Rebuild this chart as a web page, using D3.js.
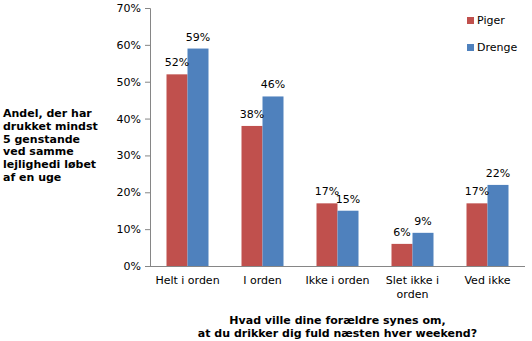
<!DOCTYPE html>
<html>
<head>
<meta charset="utf-8">
<script src="https://cdn.jsdelivr.net/npm/d3@7"></script>
<style>
  html, body { margin: 0; padding: 0; background: #fff; }
  svg { display: block; font-family: "DejaVu Sans", Verdana, sans-serif; }
</style>
</head>
<body>
<svg id="chart" width="532" height="341"></svg>
<script>
// Answer categories and the share for each group
const categories = ["Helt i orden", "I orden", "Ikke i orden", "Slet ikke i orden", "Ved ikke"];
const seriesNames = ["Piger", "Drenge"];
const piger  = [0.52, 0.38, 0.17, 0.06, 0.17];
const drenge = [0.59, 0.46, 0.15, 0.09, 0.22];
const yTicks = [0, 0.1, 0.2, 0.3, 0.4, 0.5, 0.6, 0.7];
const colors = ["#C0504D", "#4F81BD"];

const yTitleLines = ["Andel, der har", "drukket mindst", "5 genstande", "ved samme", "lejlighedi løbet", "af en uge"];
const xTitleLines = ["Hvad ville dine forældre synes om,", "at du drikker dig fuld næsten hver weekend?"];

const svg = d3.select("#chart");
const margin = { left: 150, right: 7, top: 8, bottom: 75 };
const W = 532, H = 341;
const plotRight = W - margin.right;
const plotBottom = H - margin.bottom;

const x = d3.scaleBand().domain(categories).range([margin.left, plotRight])
  .paddingInner(0.44).paddingOuter(0.22);
const xs = d3.scaleBand().domain(seriesNames).range([0, x.bandwidth()]);
const y = d3.scaleLinear().domain([0, 0.7]).range([plotBottom, margin.top]);

const axisColor = "#868686";

// Y axis
const yAxis = svg.append("g")
  .attr("transform", `translate(${margin.left},0)`)
  .call(d3.axisLeft(y).tickValues(yTicks).tickFormat(d3.format(".0%")).tickSizeOuter(0).tickSize(5).tickPadding(4));
yAxis.select(".domain").attr("stroke", axisColor);
yAxis.selectAll(".tick line").attr("stroke", axisColor);
yAxis.selectAll(".tick text").attr("fill", "#000").style("font-size", "11px")
  .style("font-family", "'DejaVu Sans', Verdana, sans-serif");

// Bars
const rows = categories.map((c, i) => ({ cat: c, values: [piger[i], drenge[i]] }));
const groups = svg.append("g").selectAll("g").data(rows).join("g")
  .attr("transform", d => `translate(${x(d.cat)},0)`);

groups.selectAll("rect")
  .data(d => d.values.map((v, j) => ({ name: seriesNames[j], v, j })))
  .join("rect")
  .attr("x", d => xs(d.name))
  .attr("width", xs.bandwidth())
  .attr("y", d => y(d.v))
  .attr("height", d => y(0) - y(d.v))
  .attr("fill", d => colors[d.j]);

groups.selectAll("text.val")
  .data(d => d.values.map((v, j) => ({ name: seriesNames[j], v, j })))
  .join("text")
  .attr("class", "val")
  .attr("x", d => xs(d.name) + xs.bandwidth() / 2)
  .attr("y", d => y(d.v) - 8)
  .attr("text-anchor", "middle")
  .style("font-size", "11px")
  .attr("fill", "#000")
  .text(d => d3.format(".0%")(d.v));

// X axis baseline
svg.append("line")
  .attr("x1", margin.left).attr("x2", plotRight)
  .attr("y1", plotBottom + 0.5).attr("y2", plotBottom + 0.5)
  .attr("stroke", axisColor);

// Category labels, wrapped to fit the band
function wrapWords(text, maxW) {
  const words = text.split(" ");
  const lines = [];
  let cur = "";
  const probe = svg.append("text").style("font-size", "11px");
  words.forEach(w => {
    const t = cur ? cur + " " + w : w;
    probe.text(t);
    if (probe.node().getComputedTextLength() > maxW && cur) { lines.push(cur); cur = w; }
    else cur = t;
  });
  lines.push(cur);
  probe.remove();
  return lines;
}
categories.forEach(c => {
  const lines = wrapWords(c, 72);
  const t = svg.append("text")
    .attr("text-anchor", "middle")
    .style("font-size", "11px")
    .attr("fill", "#000");
  lines.forEach((l, i) => {
    t.append("tspan")
      .attr("x", x(c) + x.bandwidth() / 2)
      .attr("y", plotBottom + 18 + i * 14)
      .text(l);
  });
});

// Legend
const legend = svg.append("g");
seriesNames.forEach((s, i) => {
  legend.append("rect")
    .attr("x", 467).attr("y", 17 + i * 27)
    .attr("width", 7).attr("height", 7)
    .attr("fill", colors[i]);
  legend.append("text")
    .attr("x", 477).attr("y", 24 + i * 27)
    .style("font-size", "11px")
    .attr("fill", "#000")
    .text(s);
});

// Y title
const yTitle = svg.append("text")
  .style("font-size", "11px").style("font-weight", "bold").attr("fill", "#000");
yTitleLines.forEach((l, i) => {
  yTitle.append("tspan").attr("x", 3).attr("y", 117 + i * 12.8).text(l);
});

// X title
const xTitle = svg.append("text")
  .attr("text-anchor", "middle")
  .style("font-size", "11px").style("font-weight", "bold").attr("fill", "#000");
xTitleLines.forEach((l, i) => {
  xTitle.append("tspan").attr("x", (margin.left + plotRight) / 2).attr("y", 324 + i * 13).text(l);
});
</script>
</body>
</html>
